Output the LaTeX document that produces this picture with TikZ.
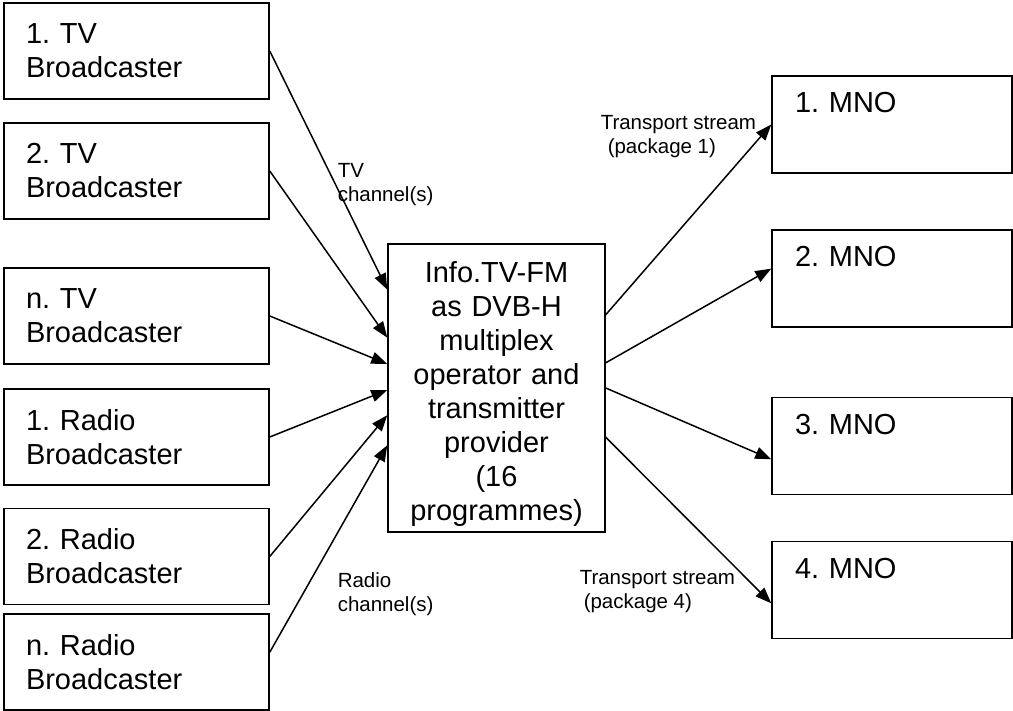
\documentclass[tikz,border=0pt]{standalone}
\usepackage{fontspec}
\setmainfont{Liberation Sans}
\usetikzlibrary{arrows.meta,calc}
\frenchspacing

\begin{document}
\begin{tikzpicture}[
  x=1pt, y=-1pt, line width=1.5pt,
  src/.style={draw,minimum width=265pt,minimum height=96pt,text width=221pt,inner xsep=22pt,align=left,font=\fontsize{29pt}{34pt}\selectfont},
  mno/.style={draw,minimum width=240pt,minimum height=97pt,text width=194pt,inner xsep=23pt,align=left,font=\fontsize{29pt}{34pt}\selectfont},
  hub/.style={draw,minimum width=217pt,minimum height=288pt,text width=200pt,inner xsep=8pt,text height=21pt,text depth=231pt,align=center,font=\fontsize{29pt}{34pt}\selectfont},
  lbl/.style={inner sep=0pt,align=left,anchor=north west,font=\fontsize{20.5pt}{24pt}\selectfont},
  >={Triangle[length=16pt,width=12pt]}]
  \useasboundingbox (0,0) rectangle (1013,711);
  % broadcasters
  \node[src] (tv1) at (136.5,51)  {1. TV\\Broadcaster};
  \node[src] (tv2) at (136.5,171) {2. TV\\Broadcaster};
  \node[src] (tvn) at (136.5,316) {n. TV\\Broadcaster};
  \node[src] (ra1) at (136.5,437) {1. Radio\\Broadcaster};
  \node[src] (ra2) at (136.5,556.5) {2. Radio\\Broadcaster};
  \node[src] (ran) at (136.5,662) {n. Radio\\Broadcaster};
  % multiplex operator
  \node[hub] (mux) at (496.5,388) {Info.TV-FM\\as DVB-H\\multiplex\\operator and\\transmitter\\provider\\(16\\programmes)};
  % mobile network operators
  \node[mno] (mno1) at (892,124.5) {1. MNO\\\strut};
  \node[mno] (mno2) at (892,278.5) {2. MNO\\\strut};
  \node[mno] (mno3) at (892,446)   {3. MNO\\\strut};
  \node[mno] (mno4) at (892,590)   {4. MNO\\\strut};
  % edges in
  \draw[->] (tv1.east) -- ($(mux.north west)!0.160!(mux.south west)$);
  \draw[->] (tv2.east) -- ($(mux.north west)!0.326!(mux.south west)$);
  \draw[->] (tvn.east) -- ($(mux.north west)!0.417!(mux.south west)$);
  \draw[->] (ra1.east) -- ($(mux.north west)!0.507!(mux.south west)$);
  \draw[->] (ra2.east) -- ($(mux.north west)!0.594!(mux.south west)$);
  \draw[->] ($(ran.north east)!0.4!(ran.south east)$) -- ($(mux.north west)!0.698!(mux.south west)$);
  % edges out
  \draw[->] ($(mux.north east)!0.247!(mux.south east)$) -- (mno1.west);
  \draw[->] ($(mux.north east)!0.413!(mux.south east)$) -- ($(mno2.north west)!0.4!(mno2.south west)$);
  \draw[->] ($(mux.north east)!0.5!(mux.south east)$)   -- ($(mno3.north west)!0.635!(mno3.south west)$);
  \draw[->] ($(mux.north east)!0.670!(mux.south east)$) -- ($(mno4.north west)!0.635!(mno4.south west)$);
  % labels
  \node[lbl] (tvlbl) at (337,163) {TV\\channel(s)};
  \node[lbl] (ralbl) at (337,572) {Radio\\channel(s)};
  \node[lbl] (ts1) at (600,115) {Transport stream\\\hspace*{7pt}(package 1)};
  \node[lbl] (ts4) at (579,570) {Transport stream\\\hspace*{4pt}(package 4)};
\end{tikzpicture}
\end{document}
